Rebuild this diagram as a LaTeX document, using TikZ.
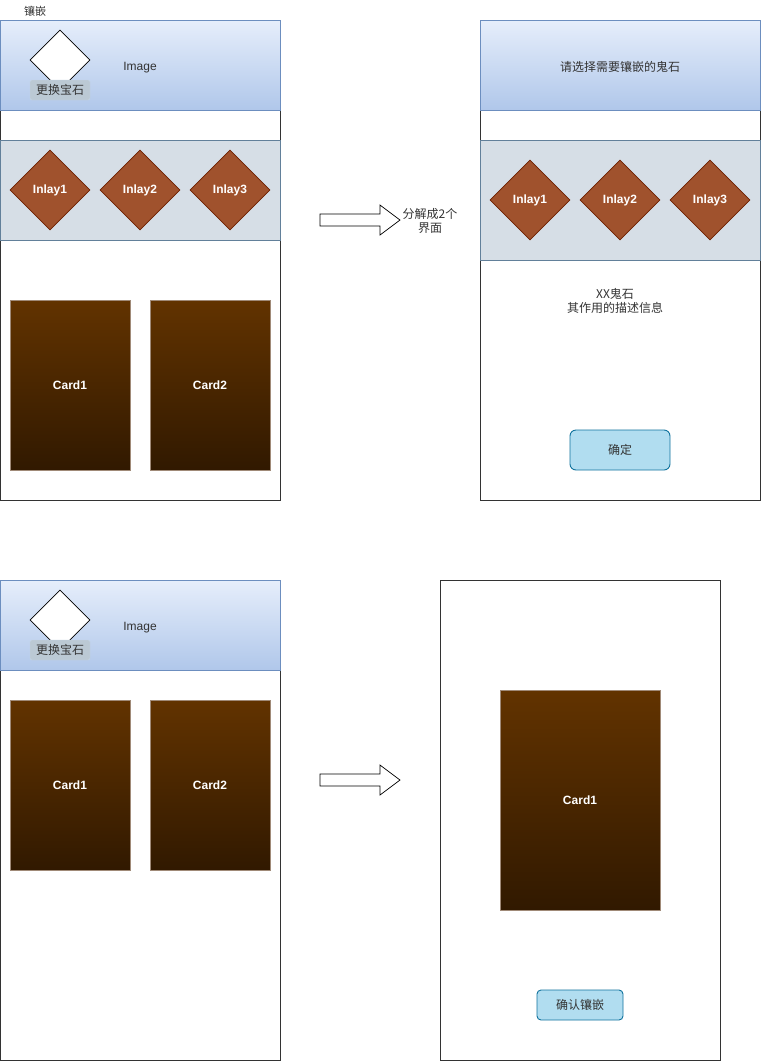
\documentclass[tikz,border=0pt]{standalone}
\usepackage{fontspec}
\setmainfont{Liberation Sans}
\newfontfamily\cjk{Noto Sans CJK SC}
\usetikzlibrary{shapes.geometric}
\definecolor{headtop}{HTML}{E6EEFB}
\definecolor{headbot}{HTML}{B0C7EA}
\definecolor{headline}{HTML}{6C8EBF}
\definecolor{bandfill}{HTML}{D6DEE6}
\definecolor{bandline}{HTML}{62809A}
\definecolor{lblfill}{HTML}{BBC9D4}
\definecolor{lblline}{HTML}{C6D6E6}
\definecolor{inlayfill}{HTML}{A0522D}
\definecolor{inlayline}{HTML}{6D1F00}
\definecolor{cardtop}{HTML}{623300}
\definecolor{cardbot}{HTML}{311900}
\definecolor{cardline}{HTML}{A08A78}
\definecolor{btnfill}{HTML}{B1DDF0}
\definecolor{btnline}{HTML}{10739E}
\definecolor{txt}{HTML}{333333}
\tikzset{
  phone/.style={draw=black!80,fill=white,line width=.8pt,minimum width=280,minimum height=480,inner sep=0},
  header/.style={draw=headline,line width=.8pt,top color=headtop,bottom color=headbot,minimum width=280,minimum height=90,inner sep=0},
  band/.style={draw=bandline,line width=.8pt,fill=bandfill,minimum width=280,inner sep=0},
  gem/.style={diamond,draw=black,line width=.8pt,fill=white,minimum width=60,minimum height=60,inner sep=0},
  swaplbl/.style={draw=lblline,fill=lblfill,rounded corners=1.5,minimum width=60,minimum height=20,inner sep=0,text=txt,font=\fontsize{12}{14}\selectfont\cjk},
  inlay/.style={diamond,draw=inlayline,line width=.8pt,fill=inlayfill,minimum width=80,minimum height=80,inner sep=0,text=white,font=\fontsize{12}{14}\selectfont\bfseries},
  card/.style={draw=cardline,line width=.8pt,top color=cardtop,bottom color=cardbot,minimum width=120,minimum height=170,inner sep=0,text=white,font=\fontsize{12}{14}\selectfont\bfseries},
  btn/.style={draw=btnline,line width=.9pt,fill=btnfill,rounded corners=6,inner sep=0,text=txt,font=\fontsize{12}{14}\selectfont\cjk},
  plain/.style={text=txt,font=\fontsize{12}{14}\selectfont,inner sep=0},
  bigarrow/.style={draw=black,fill=white,line width=.7pt},
}
\begin{document}
\begin{tikzpicture}[x=1pt,y=-1pt]
  \useasboundingbox (0,0) rectangle (762,1061);
  % top left: inlay screen
  \node[plain,font=\fontsize{11}{13}\selectfont\cjk] (title) at (35,11) {镶嵌};
  \node[phone] (p1) at (140,260) {};
  \node[header] (h1) at (140,65) {};
  \node[plain] (img1) at (140,67.5) {Image};
  \node[gem] (g1) at (60,60) {};
  \node[swaplbl] (s1) at (60,90) {更换宝石};
  \node[band,minimum height=100] (b1) at (140,190) {};
  \foreach \i/\x in {1/50,2/140,3/230}
    \node[inlay] (a\i) at (\x,190) {Inlay\i};
  \node[card] (c1) at (70,385) {Card1};
  \node[card] (c2) at (210,385) {Card2};
  % arrow
  \draw[bigarrow] (320,214)--(380,214)--(380,205)--(400,220)--(380,235)--(380,226)--(320,226)--cycle;
  \node[plain,align=center,font=\fontsize{12}{13.5}\selectfont\cjk] (split) at (430,221) {分解成2个\\界面};
  % top right: choose stone
  \node[phone] (p2) at (620,260) {};
  \node[header] (h2) at (620,65) {};
  \node[plain,font=\fontsize{12}{14}\selectfont\cjk] (ask) at (620,67) {请选择需要镶嵌的鬼石};
  \node[band,minimum height=120] (b2) at (620,200) {};
  \foreach \i/\x in {1/530,2/620,3/710}
    \node[inlay] (d\i) at (\x,200) {Inlay\i};
  \node[plain,align=center,font=\fontsize{12}{14}\selectfont\cjk] (desc) at (615,301) {XX鬼石\\其作用的描述信息};
  \node[btn,minimum width=100,minimum height=40] (ok) at (620,450) {确定};
  % bottom left: card screen
  \node[phone] (p3) at (140,820) {};
  \node[header] (h3) at (140,625) {};
  \node[plain] (img3) at (140,627.5) {Image};
  \node[gem] (g3) at (60,620) {};
  \node[swaplbl] (s3) at (60,650) {更换宝石};
  \node[card] (c3) at (70,785) {Card1};
  \node[card] (c4) at (210,785) {Card2};
  \draw[bigarrow] (320,774)--(380,774)--(380,765)--(400,780)--(380,795)--(380,786)--(320,786)--cycle;
  % bottom right: confirm
  \node[phone] (p4) at (580,820) {};
  \node[card,minimum width=160,minimum height=220] (c5) at (580,800) {Card1};
  \node[btn,rounded corners=4,minimum width=86,minimum height=30] (conf) at (580,1005) {确认镶嵌};
\end{tikzpicture}
\end{document}
